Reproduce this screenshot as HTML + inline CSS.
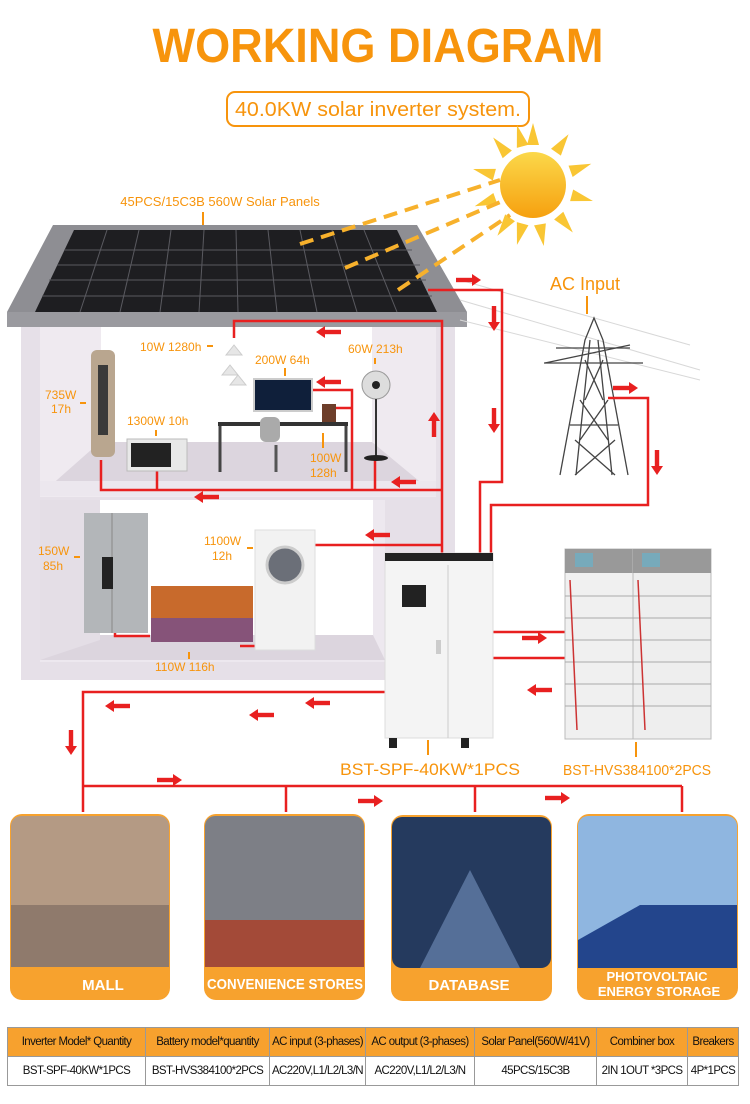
<!DOCTYPE html>
<html><head><meta charset="utf-8"><style>
html,body{margin:0;padding:0;background:#fff;}
body{width:750px;height:1104px;position:relative;overflow:hidden;font-family:"Liberation Sans",sans-serif;}
table{position:absolute;left:7px;top:1027px;border-collapse:collapse;font-size:11.5px;letter-spacing:-0.6px;}
td{border:1px solid #999;text-align:center;padding:0;height:28px;color:#111;white-space:nowrap;}
tr.h td{background:#f7a12e;}
</style></head><body>
<svg width="750" height="1104" viewBox="0 0 750 1104" style="position:absolute;left:0;top:0">
<defs>
<g id="ar"><rect x="-12" y="-2.2" width="16" height="4.4" fill="#e82020"/><polygon points="4,-6 13,0 4,6" fill="#e82020"/></g>
<linearGradient id="sun" x1="0" y1="0" x2="0" y2="1"><stop offset="0" stop-color="#fbd84a"/><stop offset="1" stop-color="#f6a00f"/></linearGradient>
</defs>
<text x="378" y="62" text-anchor="middle" font-size="48" font-weight="bold" fill="#f7940c" textLength="451" lengthAdjust="spacingAndGlyphs">WORKING DIAGRAM</text>
<rect x="227" y="92" width="302" height="34" rx="8" fill="none" stroke="#f7940c" stroke-width="2"/>
<text x="378" y="116" text-anchor="middle" font-size="20" fill="#f7940c" textLength="286" lengthAdjust="spacingAndGlyphs">40.0KW solar inverter system.</text>
<g transform="translate(533,185)" fill="#f9c634">
<polygon points="-6,-40 6,-40 0,-62"/><polygon points="-6,40 6,40 0,62" transform="rotate(15)"/>
<polygon points="-6,-40 6,-40 0,-62" transform="rotate(35)"/><polygon points="-6,-40 6,-40 0,-62" transform="rotate(70)"/>
<polygon points="-6,-40 6,-40 0,-62" transform="rotate(105)"/><polygon points="-6,-40 6,-40 0,-62" transform="rotate(140)"/>
<polygon points="-6,-40 6,-40 0,-62" transform="rotate(170)"/><polygon points="-6,-40 6,-40 0,-62" transform="rotate(215)"/>
<polygon points="-6,-40 6,-40 0,-62" transform="rotate(250)"/><polygon points="-6,-40 6,-40 0,-62" transform="rotate(285)"/>
<polygon points="-6,-40 6,-40 0,-62" transform="rotate(320)"/><polygon points="-6,-40 6,-40 0,-62" transform="rotate(-15)"/>
<circle r="33" fill="url(#sun)"/>
</g>
<text x="220" y="206" text-anchor="middle" font-size="13" fill="#f7940c">45PCS/15C3B 560W Solar Panels</text>
<line x1="203" y1="212" x2="203" y2="226" stroke="#f7940c" stroke-width="2"/>
<rect x="21" y="325" width="434" height="355" fill="#e6e0e8"/>
<rect x="40" y="325" width="396" height="172" fill="#efeaf0"/>
<rect x="101" y="325" width="271" height="120" fill="#fff"/>
<polygon points="40,495 100,442 372,442 436,495" fill="#dcd5de"/>
<rect x="40" y="481" width="396" height="15" fill="#ece7ee"/>
<rect x="40" y="500" width="345" height="162" fill="#ede8ef"/>
<rect x="100" y="500" width="273" height="143" fill="#fff"/>
<polygon points="40,660 100,635 373,635 385,660" fill="#dcd5de"/>
<polygon points="100,500 100,640 40,660 40,500" fill="#e4dee6"/>
<polygon points="53,225 417,225 467,312 7,312" fill="#8e8e93"/>
<rect x="7" y="312" width="460" height="15" fill="#9a9a9f"/>
<polygon points="74,230 397,230 437,312 35,312" fill="#1e1e21"/>
<g stroke="#5a5a60" stroke-width="1">
<line x1="64" y1="250" x2="412" y2="250"/><line x1="57" y1="265" x2="420" y2="265"/><line x1="49" y1="280" x2="426" y2="280"/><line x1="42" y1="296" x2="432" y2="296"/>
<line x1="107" y1="230" x2="80" y2="312"/><line x1="139" y1="230" x2="120" y2="312"/><line x1="171" y1="230" x2="160" y2="312"/><line x1="204" y1="230" x2="199" y2="312"/><line x1="236" y1="230" x2="238" y2="312"/><line x1="268" y1="230" x2="277" y2="312"/><line x1="300" y1="230" x2="317" y2="312"/><line x1="332" y1="230" x2="357" y2="312"/><line x1="364" y1="230" x2="397" y2="312"/>
</g>
<g stroke="#f7b12c" stroke-width="4" stroke-dasharray="14,8" fill="none">
<line x1="300" y1="244" x2="500" y2="180"/><line x1="345" y1="268" x2="505" y2="200"/><line x1="398" y1="290" x2="510" y2="215"/>
</g>
<g stroke="#d8d8d8" stroke-width="1"><line x1="460" y1="280" x2="690" y2="345"/><line x1="460" y1="300" x2="700" y2="370"/><line x1="460" y1="320" x2="700" y2="380"/></g>
<g stroke="#444" fill="none" stroke-width="1.3">
<polyline points="560,475 585,340 594,318 603,340 628,475"/>
<line x1="576" y1="475" x2="590" y2="340"/><line x1="612" y1="475" x2="598" y2="340"/>
<line x1="545" y1="363" x2="630" y2="345"/><line x1="544" y1="363" x2="643" y2="363"/><line x1="556" y1="348" x2="630" y2="348"/>
<line x1="570" y1="425" x2="618" y2="425"/>
<path d="M585,360 L603,400 M603,360 L585,400 M580,400 L608,440 M608,400 L580,440 M575,440 L615,475 M615,440 L575,475"/>
</g>
<text x="585" y="290" text-anchor="middle" font-size="18" fill="#f7940c">AC Input</text>
<line x1="587" y1="296" x2="587" y2="314" stroke="#f7940c" stroke-width="2"/>
<g stroke="#e82020" stroke-width="2.5" fill="none">
<polyline points="428,290 502,290 502,482 480,482 480,557"/>
<polyline points="608,398 648,398 648,505 491,505 491,557"/>
<polyline points="234,338 234,321 442,321 442,555"/>
<polyline points="101,460 101,490 442,490"/>
<line x1="157" y1="470" x2="157" y2="490"/>
<polyline points="311,390 352,390 352,490"/><line x1="336" y1="408" x2="352" y2="408"/>
<line x1="375" y1="458" x2="375" y2="490"/>
<line x1="315" y1="545" x2="442" y2="545"/>
<polyline points="276,586 276,646 240,646"/>
<polyline points="115,626 115,636 150,636"/>
<line x1="475" y1="632" x2="577" y2="632"/><line x1="475" y1="658" x2="577" y2="658"/>
<polyline points="386,692 83,692 83,812"/>
<line x1="83" y1="786" x2="682" y2="786"/>
<line x1="286" y1="786" x2="286" y2="812"/><line x1="475" y1="786" x2="475" y2="812"/><line x1="682" y1="786" x2="682" y2="812"/>
</g>
<use href="#ar" transform="translate(468,280)"/>
<use href="#ar" transform="translate(494,318) rotate(90)"/>
<use href="#ar" transform="translate(494,420) rotate(90)"/>
<use href="#ar" transform="translate(625,388)"/>
<use href="#ar" transform="translate(657,462) rotate(90)"/>
<use href="#ar" transform="translate(329,332) rotate(180)"/>
<use href="#ar" transform="translate(329,382) rotate(180)"/>
<use href="#ar" transform="translate(434,425) rotate(-90)"/>
<use href="#ar" transform="translate(404,482) rotate(180)"/>
<use href="#ar" transform="translate(207,497) rotate(180)"/>
<use href="#ar" transform="translate(378,535) rotate(180)"/>
<use href="#ar" transform="translate(262,715) rotate(180)"/>
<use href="#ar" transform="translate(534,638)"/>
<use href="#ar" transform="translate(540,690) rotate(180)"/>
<use href="#ar" transform="translate(318,703) rotate(180)"/>
<use href="#ar" transform="translate(118,706) rotate(180)"/>
<use href="#ar" transform="translate(71,742) rotate(90)"/>
<use href="#ar" transform="translate(169,780)"/>
<use href="#ar" transform="translate(370,801)"/>
<use href="#ar" transform="translate(557,798)"/>
<rect x="91" y="350" width="24" height="107" rx="6" fill="#b9a68f"/><rect x="98" y="365" width="10" height="70" fill="#3a3a3a"/>
<rect x="127" y="439" width="60" height="32" fill="#e8e8e8" stroke="#bbb"/><rect x="131" y="443" width="40" height="24" fill="#222"/>
<path d="M226,355 l8,-10 l8,10z M222,375 l8,-10 l8,10z M230,385 l8,-10 l8,10z" fill="#e6e6e6" stroke="#ccc"/>
<rect x="254" y="379" width="58" height="32" fill="#0f1f3a" stroke="#ccc" stroke-width="2"/>
<rect x="322" y="404" width="14" height="20" fill="#6d3e2a"/>
<rect x="218" y="422" width="130" height="4" fill="#333"/><line x1="220" y1="426" x2="220" y2="472" stroke="#444" stroke-width="3"/><line x1="346" y1="426" x2="346" y2="472" stroke="#444" stroke-width="3"/>
<rect x="260" y="417" width="20" height="25" rx="6" fill="#aaa"/><line x1="276" y1="445" x2="276" y2="472" stroke="#555" stroke-width="3"/>
<circle cx="376" cy="385" r="14" fill="#ddd" stroke="#999"/><circle cx="376" cy="385" r="4" fill="#222"/><line x1="376" y1="399" x2="376" y2="458" stroke="#333" stroke-width="2"/><ellipse cx="376" cy="458" rx="12" ry="3" fill="#222"/>
<rect x="84" y="513" width="64" height="120" fill="#b3b6b9"/><line x1="112" y1="513" x2="112" y2="633" stroke="#888"/><rect x="102" y="557" width="11" height="32" fill="#222"/>
<rect x="151" y="586" width="102" height="56" fill="#c86a2c"/><rect x="151" y="618" width="102" height="24" fill="#6a4a9a" opacity="0.7"/>
<rect x="255" y="530" width="60" height="120" fill="#f2f2f2" stroke="#ddd"/><circle cx="285" cy="565" r="18" fill="#6b6f78" stroke="#ccc" stroke-width="3"/>
<g font-size="12" fill="#f7940c">
<text x="140" y="351">10W 1280h</text>
<text x="255" y="364">200W 64h</text>
<text x="348" y="353">60W 213h</text>
<text x="45" y="399">735W</text><text x="51" y="413">17h</text>
<text x="127" y="425">1300W 10h</text>
<text x="310" y="462">100W</text><text x="310" y="477">128h</text>
<text x="38" y="555">150W</text><text x="43" y="570">85h</text>
<text x="204" y="545">1100W</text><text x="212" y="560">12h</text>
<text x="155" y="671">110W 116h</text>
</g>
<g stroke="#f7940c" stroke-width="2"><line x1="207" y1="346" x2="213" y2="346"/><line x1="80" y1="403" x2="86" y2="403"/><line x1="156" y1="430" x2="156" y2="436"/><line x1="285" y1="368" x2="285" y2="376"/><line x1="323" y1="433" x2="323" y2="448"/><line x1="375" y1="358" x2="375" y2="364"/><line x1="74" y1="557" x2="80" y2="557"/><line x1="247" y1="548" x2="253" y2="548"/><line x1="189" y1="652" x2="189" y2="659"/></g>
<rect x="385" y="553" width="108" height="185" fill="#f4f4f4" stroke="#ddd"/>
<rect x="385" y="553" width="108" height="8" fill="#222"/>
<rect x="402" y="585" width="24" height="22" fill="#222"/><line x1="448" y1="565" x2="448" y2="738" stroke="#ccc"/>
<rect x="436" y="640" width="5" height="14" fill="#ccc"/>
<rect x="389" y="738" width="8" height="10" fill="#222"/><rect x="461" y="738" width="8" height="10" fill="#222"/>
<line x1="428" y1="740" x2="428" y2="755" stroke="#f7940c" stroke-width="2"/>
<text x="430" y="775" text-anchor="middle" font-size="17" fill="#f7940c" textLength="180" lengthAdjust="spacingAndGlyphs">BST-SPF-40KW*1PCS</text>
<g>
<rect x="565" y="549" width="75" height="190" fill="#f0f0f0" stroke="#bbb"/><rect x="565" y="549" width="75" height="24" fill="#999"/><rect x="575" y="553" width="18" height="14" fill="#7ab"/>
<rect x="633" y="549" width="78" height="190" fill="#eee" stroke="#bbb"/><rect x="633" y="549" width="78" height="24" fill="#999"/><rect x="642" y="553" width="18" height="14" fill="#7ab"/>
<g stroke="#aaa"><line x1="565" y1="596" x2="711" y2="596"/><line x1="565" y1="618" x2="711" y2="618"/><line x1="565" y1="640" x2="711" y2="640"/><line x1="565" y1="662" x2="711" y2="662"/><line x1="565" y1="684" x2="711" y2="684"/><line x1="565" y1="706" x2="711" y2="706"/></g>
<line x1="570" y1="580" x2="577" y2="730" stroke="#c33" stroke-width="1.5"/><line x1="638" y1="580" x2="645" y2="730" stroke="#c33" stroke-width="1.5"/>
</g>
<line x1="636" y1="742" x2="636" y2="757" stroke="#f7940c" stroke-width="2"/>
<text x="637" y="775" text-anchor="middle" font-size="15" fill="#f7940c" textLength="148" lengthAdjust="spacingAndGlyphs">BST-HVS384100*2PCS</text>
<g>
<rect x="10" y="814" width="160" height="186" rx="12" fill="#f7a22e"/>
<rect x="11" y="816" width="158" height="151" rx="10" fill="#b49a84"/><rect x="11" y="905" width="158" height="62" fill="#8f7a6c"/>
<rect x="204" y="814" width="161" height="186" rx="12" fill="#f7a22e"/>
<rect x="205" y="816" width="159" height="151" rx="10" fill="#7d7f86"/><rect x="205" y="920" width="159" height="47" fill="#a34a38"/>
<rect x="391" y="815" width="161" height="186" rx="12" fill="#f7a22e"/>
<rect x="392" y="817" width="159" height="151" rx="10" fill="#253a5e"/><polygon points="470,870 520,968 420,968" fill="#6a86b0" opacity="0.7"/>
<rect x="577" y="814" width="161" height="186" rx="12" fill="#f7a22e"/>
<rect x="578" y="816" width="159" height="151" rx="10" fill="#8fb6e0"/><polygon points="578,968 578,940 640,905 737,905 737,968" fill="#23458c"/>
</g>
<g font-size="15" font-weight="bold" fill="#fff" text-anchor="middle">
<text x="103" y="990">MALL</text>
<text x="285" y="989" textLength="156" lengthAdjust="spacingAndGlyphs">CONVENIENCE STORES</text>
<text x="469" y="990">DATABASE</text>
<text x="657" y="981" font-size="13">PHOTOVOLTAIC</text>
<text x="659" y="996" font-size="13">ENERGY STORAGE</text>
</g>
</svg>
<table>
<tr class="h"><td style="width:137px">Inverter Model* Quantity</td><td style="width:123px">Battery model*quantity</td><td style="width:95px">AC input (3-phases)</td><td style="width:108px">AC output (3-phases)</td><td style="width:121px">Solar Panel(560W/41V)</td><td style="width:90px">Combiner box</td><td style="width:50px">Breakers</td></tr>
<tr><td>BST-SPF-40KW*1PCS</td><td>BST-HVS384100*2PCS</td><td>AC220V,L1/L2/L3/N</td><td>AC220V,L1/L2/L3/N</td><td>45PCS/15C3B</td><td>2IN 1OUT *3PCS</td><td>4P*1PCS</td></tr>
</table>
</body></html>
